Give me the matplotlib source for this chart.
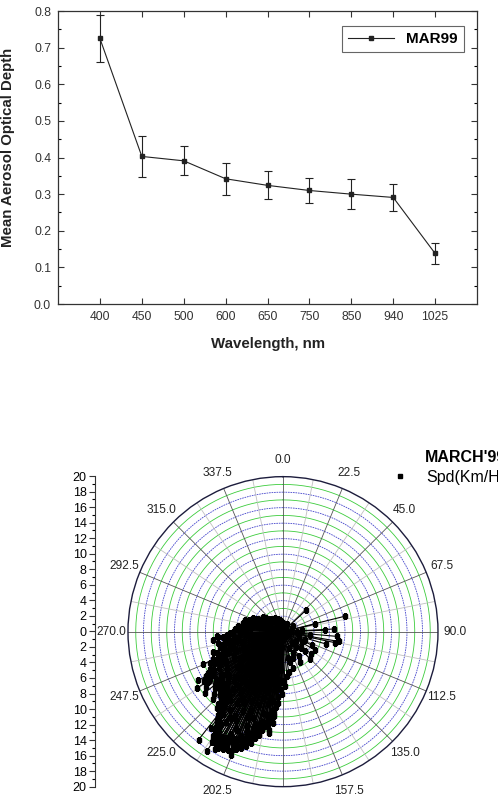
import matplotlib
matplotlib.use("Agg")
import matplotlib.pyplot as plt
import numpy as np
from matplotlib.ticker import MultipleLocator, FuncFormatter

plt.rcParams['font.family'] = ['Liberation Sans', 'DejaVu Sans']

# Upper panel: mean AOD per wavelength
wavelength = ['400', '450', '500', '600', '650', '750', '850', '940', '1025']
aod = [0.725, 0.403, 0.391, 0.342, 0.324, 0.310, 0.300, 0.291, 0.138]
aod_err = [0.065, 0.055, 0.040, 0.043, 0.038, 0.035, 0.041, 0.036, 0.028]

# Lower panel: wind direction (deg) / speed (km/h)
dir_east = [47, 76, 77, 88, 87, 95, 100, 106, 102, 120, 131, 132, 147, 167, 165,
            179, 175, 60, 85, 110, 125, 140, 155, 170, 172, 178, 115, 98, 92, 150,
            160, 135, 128, 25, 15, 70, 105, 118, 142, 158]
spd_east = [4.1, 8.2, 4.2, 5.4, 6.6, 7.0, 7.3, 5.8, 6.9, 4.8, 3.8, 3.2, 3.7, 4.0, 4.9,
            6.4, 5.8, 1.5, 2.5, 3.0, 2.0, 2.6, 3.0, 3.4, 5.2, 7.0, 4.2, 3.5, 1.8, 4.5,
            2.2, 5.0, 4.6, 1.1, 0.9, 1.3, 2.2, 2.8, 1.9, 3.6]

dir_sw = [181, 182, 183, 184, 185, 184, 182, 183, 185, 181,
          186, 186, 187, 188, 189, 187, 188, 190, 189, 186, 190, 188,
          192, 193, 191, 194, 195, 192, 193, 194, 195, 191, 193, 195,
          196, 197, 198, 199, 200, 197, 198, 196, 199, 200, 198, 197, 200,
          201, 202, 203, 204, 205, 202, 203, 204, 201, 205, 203, 202, 204, 201,
          206, 207, 208, 209, 210, 207, 208, 209, 206, 210, 208, 207, 209, 210, 206,
          211, 212, 212.5, 213, 214, 215, 211, 213, 212, 214, 215, 211, 213, 214, 212,
          217, 218, 217.8, 219, 220, 216, 218, 219, 216, 220, 217, 218, 219,
          223, 222, 224, 225, 221, 223, 224, 222, 225, 221,
          227, 226, 228, 229, 230, 227, 229, 226, 230,
          232, 233, 235, 236, 236.7, 234, 231, 233, 235, 236, 232,
          237, 238, 240, 239, 241, 238, 240, 237, 241,
          243, 245, 248, 248.5, 246, 244, 247, 250, 249, 242, 246,
          252, 254, 256, 258, 260, 253, 255, 257, 259, 251,
          263, 264, 265.6, 266, 268, 270, 262, 267, 269, 261,
          184, 186, 189, 191, 194, 196, 199, 202, 205, 208, 211, 214, 217, 220, 223,
          226, 229, 232, 235, 238, 241, 244, 247, 250, 253, 256, 259, 262, 265, 268,
          187, 190, 193, 197, 201, 204, 207, 210, 213, 216, 219, 222, 225, 228, 231,
          234, 237, 240, 243, 246, 249, 252, 255, 258, 261, 264, 267,
          185, 188, 192, 195, 198, 200, 203, 206, 209, 212, 215, 218, 221, 224,
          189.5, 191.5, 194.5, 197.5, 200.5, 203.5, 206.5, 209.5, 212.8, 215.5, 218.5,
          221.5, 227.5, 233.5, 239.5, 245.5]
spd_sw = [6.5, 7.5, 5.0, 8.4, 9.7, 3.5, 2.0, 6.2, 4.4, 8.0,
          11.0, 11.9, 10.2, 12.8, 11.5, 7.5, 9.0, 12.2, 5.5, 3.0, 8.8, 13.2,
          13.0, 13.7, 11.0, 12.5, 14.2, 9.5, 6.0, 10.8, 8.0, 4.2, 12.0, 13.0,
          15.0, 14.8, 15.5, 14.0, 16.0, 12.5, 10.0, 7.2, 11.8, 13.5, 5.0, 9.0, 15.2,
          15.9, 16.3, 17.3, 16.0, 16.8, 14.5, 12.0, 9.8, 7.5, 14.0, 15.2, 11.0, 6.2, 13.0,
          16.5, 17.0, 16.2, 17.2, 17.5, 14.8, 13.0, 10.5, 8.5, 15.7, 15.5, 11.5, 5.8, 12.5, 13.8,
          16.9, 15.8, 18.3, 15.1, 14.3, 15.0, 13.0, 11.0, 8.0, 12.2, 9.5, 10.2, 6.5, 16.2, 13.8,
          13.8, 17.7, 13.6, 12.8, 12.6, 14.5, 11.2, 9.0, 7.0, 10.8, 15.5, 8.0, 4.8,
          11.8, 12.5, 11.0, 11.5, 9.8, 8.2, 6.0, 10.5, 9.0, 13.0,
          11.1, 10.0, 12.0, 10.8, 11.4, 8.5, 7.2, 12.5, 9.2,
          11.2, 10.5, 10.6, 11.6, 13.3, 12.2, 9.0, 7.5, 8.8, 6.5, 12.8,
          11.8, 12.0, 12.6, 10.5, 11.0, 8.5, 9.5, 6.0, 7.2,
          10.5, 9.8, 11.2, 9.7, 8.5, 7.0, 10.2, 8.8, 6.5, 9.2, 5.5,
          9.0, 9.4, 8.4, 7.8, 8.5, 6.8, 5.5, 7.2, 6.0, 7.5,
          9.1, 6.4, 8.4, 8.5, 6.8, 6.5, 5.8, 4.8, 5.5, 7.0,
          9.2, 10.6, 12.4, 12.2, 13.4, 14.2, 14.6, 15.0, 15.5, 15.9, 16.0, 15.6, 14.2, 11.4, 11.0,
          10.6, 10.2, 10.0, 9.8, 10.9, 10.2, 8.6, 9.5, 8.2, 8.0, 7.8, 6.4, 7.5, 7.8, 5.5,
          11.6, 11.8, 12.6, 13.8, 14.8, 15.2, 15.8, 16.4, 16.6, 13.2, 11.6, 11.9, 10.4, 9.6, 10.2,
          9.6, 11.2, 11.4, 8.2, 9.0, 7.6, 8.0, 7.0, 8.2, 6.2, 7.6, 7.2,
          7.2, 10.8, 12.8, 13.6, 14.4, 14.9, 15.6, 15.4, 16.4, 16.0, 14.2, 12.4, 12.2, 10.4,
          12.0, 12.4, 13.2, 13.0, 15.6, 16.6, 16.2, 16.8, 17.0, 14.6, 12.0,
          11.4, 9.8, 10.8, 11.6, 9.4]

dir_nw = [274, 272, 278, 280, 285, 288, 291, 295, 299, 283, 276, 293, 297, 300,
          305, 310, 315, 320, 325, 330, 335, 340, 345, 350, 355, 0, 5, 308, 318,
          20, 40, 60, 100, 140, 200, 240, 280, 320,
          271, 275, 279, 282, 286, 289, 292, 296, 302, 273, 277, 281, 287, 294]
spd_nw = [6.0, 5.2, 5.4, 5.0, 4.9, 4.5, 4.1, 3.8, 2.4, 3.5, 4.2, 3.0, 3.6, 3.2,
          3.2, 2.8, 2.4, 2.2, 1.9, 2.0, 1.6, 1.8, 1.5, 1.3, 1.2, 1.1, 1.0, 2.0, 1.2,
          0.8, 0.6, 0.5, 0.8, 0.7, 1.0, 1.2, 1.0, 0.9,
          5.6, 4.6, 4.8, 5.3, 4.4, 4.7, 3.8, 3.4, 2.9, 6.2, 5.8, 4.0, 5.1, 4.3]

fig = plt.figure(figsize=(4.98, 7.98), dpi=100)

# ---- top chart
ax1 = fig.add_axes([0.1165, 0.619, 0.8414, 0.3672])
x = np.arange(1, len(aod) + 1)
ax1.errorbar(x, aod, yerr=aod_err, fmt='none', ecolor='#222222', elinewidth=0.8,
             capsize=3, capthick=0.8)
ax1.plot(x, aod, '-s', color='#222222', lw=0.8, ms=3.5, label='MAR99')
ax1.set_xlim(0, 10)
ax1.set_ylim(0, 0.8)
ax1.set_xticks(x)
ax1.set_xticklabels(wavelength)
ax1.yaxis.set_major_locator(MultipleLocator(0.1))
ax1.yaxis.set_minor_locator(MultipleLocator(0.05))
ax1.yaxis.set_major_formatter(FuncFormatter(lambda v, p: f'{v:.1f}'))
ax1.tick_params(direction='in', top=True, right=True, labelsize=8.7, length=4,
                width=0.8, color='#333333', labelcolor='#333333', pad=5)
ax1.tick_params(which='minor', direction='in', right=True, length=2, width=0.8)
for s in ax1.spines.values():
    s.set_color('#333333')
    s.set_linewidth(0.9)
ax1.set_xlabel('Wavelength, nm', fontsize=10.8, fontweight='bold', color='#222222')
ax1.set_ylabel('Mean Aerosol Optical Depth', fontsize=10.8, fontweight='bold', color='#222222')
ax1.xaxis.set_label_coords(0.5, -0.112)
ax1.yaxis.set_label_coords(-0.103, 0.535)
leg = ax1.legend(loc='upper right', bbox_to_anchor=(0.969, 0.949), borderaxespad=0,
                 prop={'weight': 'bold', 'size': 11}, fancybox=False, edgecolor='#666666',
                 framealpha=1, handlelength=3.0, borderpad=0.4)
leg.get_frame().set_linewidth(0.8)

# ---- wind rose
axp = fig.add_axes([0.2570, 0.0142, 0.6225, 0.3885], projection='polar')
axp.set_theta_zero_location('N')
axp.set_theta_direction(-1)
axp.set_ylim(0, 20)
axp.grid(False)
axp.set_xticks([])
axp.set_yticks([])
axp.spines['polar'].set_color('#1c1c3c')
axp.spines['polar'].set_linewidth(1.0)

ring = np.linspace(0, 2 * np.pi, 400)
for r in range(1, 20):
    if r % 2:
        axp.plot(ring, np.full_like(ring, r), color='#3ccc3c', lw=0.6, zorder=1)
    else:
        axp.plot(ring, np.full_like(ring, r), color='#4444cc', lw=0.6, ls=(0, (2, 1)), zorder=1)
for a in np.arange(0, 360, 11.25):
    major = (a % 22.5 == 0)
    axp.plot([np.deg2rad(a)] * 2, [0, 20], color='#555555' if major else '#c0c0c0',
             lw=0.6, zorder=1.5)
for a in np.arange(0, 360, 22.5):
    axp.text(np.deg2rad(a), 22.2, f'{a:.1f}', ha='center', va='center', fontsize=8.6,
             color='#222222', clip_on=False)

wind_dir = dir_east + dir_sw + dir_nw
wind_spd = spd_east + spd_sw + spd_nw
th = np.deg2rad(wind_dir)
axp.vlines(th, 0, wind_spd, color='k', lw=0.8, zorder=3)
axp.plot(th, wind_spd, 's', color='k', ms=3.3, zorder=4, label='Spd(Km/Hr)')

fig.text(425 / 498, 1 - 458 / 798, "MARCH'99", fontsize=11.5, fontweight='bold',
         va='center', ha='left')
axp.legend(loc='center left', bbox_to_anchor=(393 / 498, 1 - 477 / 798),
           bbox_transform=fig.transFigure, frameon=False, borderpad=0, borderaxespad=0,
           handlelength=0.9, handletextpad=1.2, prop={'size': 11.5}, markerscale=0.9)

# left radial scale
axl = fig.add_axes([95 / 498, 0.01416, 0.001, 0.3893])
axl.set_ylim(-20, 20)
axl.patch.set_visible(False)
for k in ['right', 'top', 'bottom']:
    axl.spines[k].set_visible(False)
axl.spines['left'].set_color('#333333')
axl.spines['left'].set_linewidth(0.8)
axl.set_xticks([])
axl.yaxis.set_major_locator(MultipleLocator(2))
axl.yaxis.set_minor_locator(MultipleLocator(1))
axl.yaxis.set_major_formatter(FuncFormatter(lambda v, p: f'{abs(v):.0f}'))
axl.tick_params(axis='y', labelsize=9, length=4, width=0.8, color='#333333', pad=2)
axl.tick_params(axis='y', which='minor', length=2, width=0.8)

plt.savefig('out.png', dpi=100)
